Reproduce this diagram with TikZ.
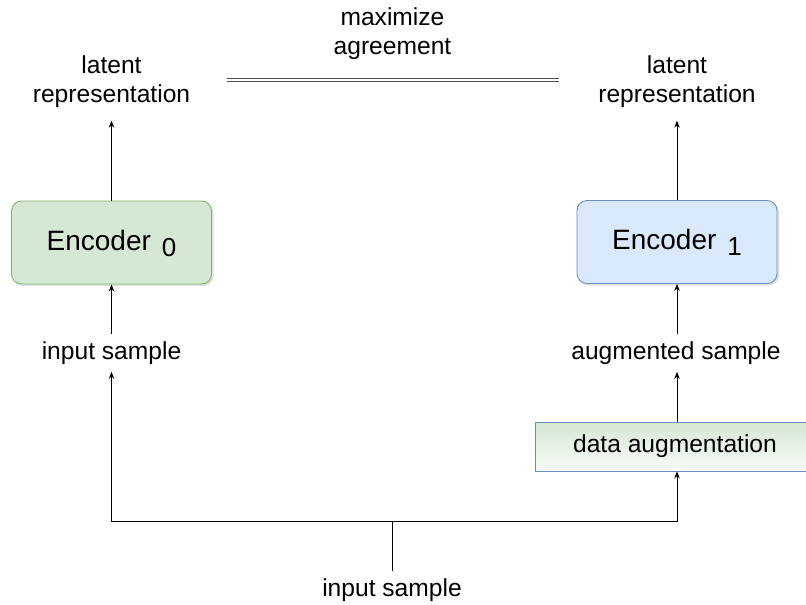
\documentclass[tikz,border=0pt]{standalone}
\usepackage{fontspec}
\setmainfont{Liberation Sans}
\usetikzlibrary{arrows.meta,shadows}

\definecolor{encGreenFill}{HTML}{D5E8D4}
\definecolor{encGreenLine}{HTML}{82B366}
\definecolor{encBlueFill}{HTML}{DAE8FC}
\definecolor{encBlueLine}{HTML}{6C8EBF}
\definecolor{augTop}{HTML}{D5E8D3}
\definecolor{augBottom}{HTML}{F7FBF6}
\definecolor{linkGray}{HTML}{4D4D4D}

\tikzset{
  lbl/.style={font=\fontsize{24.6}{29}\selectfont, inner xsep=2pt, inner ysep=7.5pt,
              text height=17.8pt, text depth=5pt},
  lbltwo/.style={font=\fontsize{24.6}{29}\selectfont, align=center, inner xsep=2pt, inner ysep=13pt},
  encbox/.style={rounded corners=10pt, minimum width=200pt, minimum height=83pt,
                 line width=0.9pt, font=\fontsize{28}{34}\selectfont,
                 text height=20pt, text depth=5pt,
                 drop shadow={shadow xshift=2pt, shadow yshift=-2pt, opacity=0.25}},
  augbox/.style={draw=encBlueLine, line width=0.9pt, top color=augTop, bottom color=augBottom,
                 minimum width=280pt, minimum height=49pt,
                 font=\fontsize{24.6}{29}\selectfont, text height=17.8pt, text depth=5pt},
  arr/.style={draw=black, line width=0.9pt, -{Stealth[length=7pt,width=5.5pt]}},
  plain/.style={draw=black, line width=0.9pt},
  agreement/.style={draw=linkGray, double=white, double distance=2pt, line width=0.9pt}
}

\begin{document}
\begin{tikzpicture}[x=1pt,y=-1pt]
  \useasboundingbox (0,0) rectangle (806,605);

  % encoders
  \node[encbox, fill=encGreenFill, draw=encGreenLine] (encL) at (111.5,242.5)
    {Encoder\hspace{11pt}\raisebox{-6pt}{\fontsize{26}{26}\selectfont 0}};
  \node[encbox, fill=encBlueFill, draw=encBlueLine] (encR) at (677,242)
    {Encoder\hspace{11pt}\raisebox{-6pt}{\fontsize{26}{26}\selectfont 1}};

  % outputs
  \node[lbltwo] (latL) at (111.5,81.5) {latent\\representation};
  \node[lbltwo] (latR) at (677,81.5) {latent\\representation};
  \node[lbltwo, inner ysep=0pt] (agree) at (392.5,33.5) {maximize\\agreement};
  \coordinate (agL) at (226.7,80.3);
  \coordinate (agR) at (559,80.3);
  \draw[agreement] (agL) -- (agR);

  % inputs
  \node[lbl] (inL) at (111.5,352.75) {input sample};
  \node[lbl] (augS) at (676,352.75) {augmented sample};
  \node[augbox] (aug) at (675,446.5) {data augmentation};
  \node[lbl] (inB) at (392,589.75) {input sample};
  \coordinate (split) at (392,521);

  % connectors
  \draw[arr] (inL.north) -- (encL.south);
  \draw[arr] (encL.north) -- (latL.south);
  \draw[arr] (encR.north) -- (latR.south);
  \draw[arr] (augS.north -| encR.south) -- (encR.south);
  \draw[arr] (aug.north -| encR.south) -- (augS.south -| encR.south);
  \draw[plain] (inB.north) -- (split);
  \draw[arr] (split) -| (inL.south);
  \draw[arr] (split) -| (aug.south -| encR.south);
\end{tikzpicture}
\end{document}
